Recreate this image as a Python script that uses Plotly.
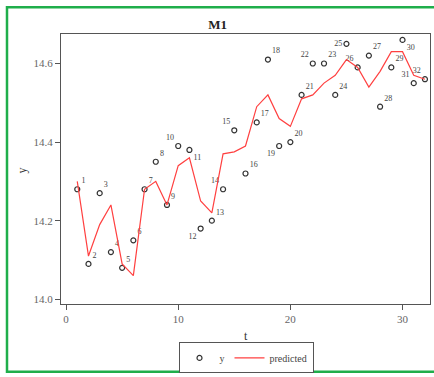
import plotly.graph_objects as go

t = list(range(1, 33))
y_obs = [14.28, 14.09, 14.27, 14.12, 14.08, 14.15, 14.28, 14.35, 14.24, 14.39,
         14.38, 14.18, 14.20, 14.28, 14.43, 14.32, 14.45, 14.61, 14.39, 14.40,
         14.52, 14.60, 14.60, 14.52, 14.65, 14.59, 14.62, 14.49, 14.59, 14.66,
         14.55, 14.56]
y_pred = [14.30, 14.11, 14.19, 14.24, 14.09, 14.06, 14.28, 14.30, 14.24, 14.34,
          14.36, 14.25, 14.22, 14.37, 14.375, 14.39, 14.49, 14.52, 14.46, 14.44,
          14.51, 14.52, 14.55, 14.57, 14.61, 14.59, 14.54, 14.58, 14.63, 14.63,
          14.57, 14.56]
labels = [str(i) for i in t]
label_pos = ["top right"] * 32
for i in [10, 14, 15, 22, 26, 31, 32]:
    label_pos[i - 1] = "top left"
for i in [12, 19]:
    label_pos[i - 1] = "bottom left"
for i in [11, 30]:
    label_pos[i - 1] = "bottom right"
label_pos[25 - 1] = "middle left"

serif = "Liberation Serif, Times New Roman, serif"

fig = go.Figure()
fig.add_trace(go.Scatter(
    x=t, y=y_obs, mode="markers+text", name="y",
    marker=dict(symbol="circle-open", size=5, color="#333333", line=dict(width=1.2)),
    text=labels, textposition=label_pos,
    textfont=dict(family=serif, size=8, color="#444444"),
))
fig.add_trace(go.Scatter(
    x=t, y=y_pred, mode="lines", name="predicted",
    line=dict(color="#ff4040", width=1.2),
))

W, H = 434, 377
ml, mr, mt, mb = 61, 4, 34, 70
pw, ph = W - ml - mr, H - mt - mb

def px(xp):
    return (xp - ml) / pw

def py(yp):
    return (H - mb - yp) / ph

fig.update_layout(
    width=W, height=H,
    margin=dict(l=ml, r=mr, t=mt, b=mb),
    paper_bgcolor="white", plot_bgcolor="white",
    font=dict(family=serif, color="#555555"),
    title=dict(text="<b>M1</b>", x=px(246), xanchor="center", y=1 - 24 / H, yanchor="middle",
               font=dict(family=serif, size=13, color="#222222")),
    showlegend=True,
    legend=dict(orientation="h", x=px(246), xanchor="center", y=py(361.5), yanchor="middle",
                bordercolor="#555555", borderwidth=1, font=dict(family=serif, size=10, color="#444444"),
                tracegroupgap=0),
    xaxis=dict(range=[-0.45, 32.45], tickvals=[0, 10, 20, 30], showgrid=False, zeroline=False,
               showline=True, mirror=True, linecolor="#555555", linewidth=1,
               ticks="outside", ticklen=5, tickcolor="#555555",
               tickfont=dict(family=serif, size=11, color="#666666")),
    yaxis=dict(range=[13.988, 14.675], tickvals=[14.0, 14.2, 14.4, 14.6], ticktext=["14.0", "14.2", "14.4", "14.6"],
               showgrid=False, zeroline=False,
               showline=True, mirror=True, linecolor="#555555", linewidth=1,
               ticks="outside", ticklen=5, tickcolor="#555555",
               tickfont=dict(family=serif, size=11, color="#666666")),
    annotations=[
        dict(text="t", x=px(246), y=py(339), xref="paper", yref="paper", showarrow=False,
             xanchor="center", yanchor="middle", font=dict(family=serif, size=12, color="#333333")),
        dict(text="y", x=px(22), y=py(172), xref="paper", yref="paper", showarrow=False, textangle=-90,
             xanchor="center", yanchor="middle", font=dict(family=serif, size=12, color="#333333")),
    ],
    shapes=[
        dict(type="rect", xref="paper", yref="paper", x0=px(7), x1=px(440), y0=py(375.5), y1=py(7),
             line=dict(color="#1fae4b", width=2.5), layer="above"),
    ],
)

fig.write_html("out.html", config={"displayModeBar": False},
               post_script="document.body.style.margin='0';document.body.style.overflow='hidden';")
